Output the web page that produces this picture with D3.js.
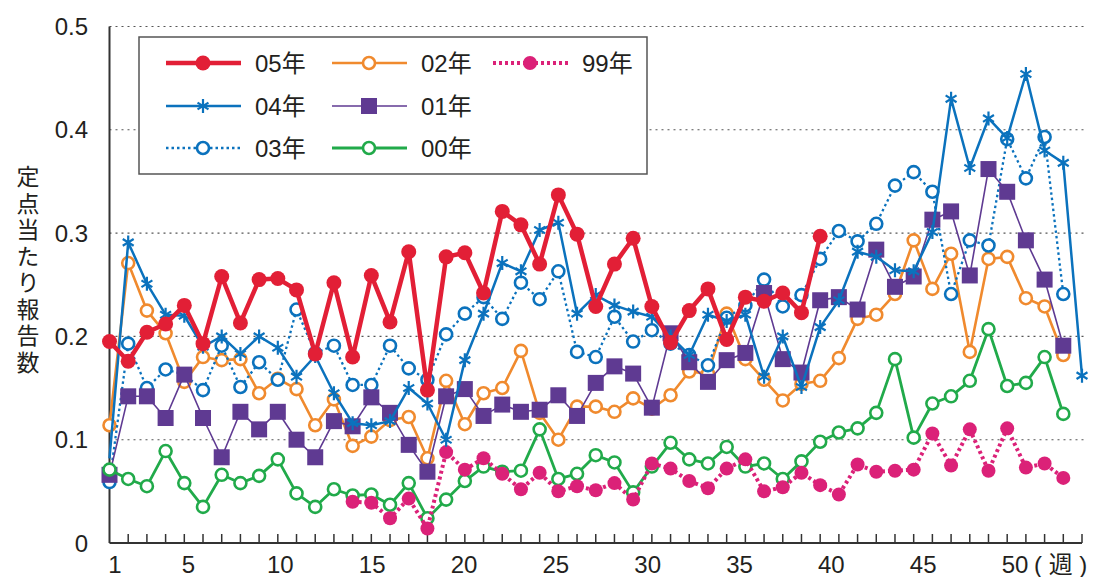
<!DOCTYPE html>
<html>
<head>
<meta charset="utf-8">
<script src="https://cdn.jsdelivr.net/npm/d3@7"></script>
<style>
  body { margin: 0; background: #fff; }
  text { font-family: "Liberation Sans", Arial, "Noto Sans CJK JP", sans-serif; fill: #231f20; }
</style>
</head>
<body>
<svg id="svg1" width="1097" height="577"></svg>
<script>
// 定点当たり報告数 by week, 1999-2005
var y05 = [0.195,0.176,0.204,0.212,0.230,0.193,0.258,0.213,0.255,0.256,
           0.245,0.183,0.252,0.180,0.259,0.214,0.282,0.148,0.277,0.281,
           0.242,0.321,0.308,0.270,0.337,0.299,0.229,0.270,0.295,0.229,
           0.194,0.225,0.246,0.197,0.238,0.234,0.242,0.223,0.297];
var y04 = [0.082,0.291,0.251,0.221,0.220,0.190,0.200,0.183,0.200,0.189,
           0.161,0.181,0.145,0.116,0.114,0.118,0.150,0.135,0.100,0.177,
           0.222,0.271,0.263,0.303,0.310,0.222,0.240,0.230,0.224,0.219,
           0.200,0.182,0.221,0.215,0.221,0.161,0.200,0.151,0.209,0.235,
           0.282,0.277,0.264,0.263,0.301,0.430,0.363,0.411,0.392,0.454,
           0.380,0.368,0.162];
var y03 = [0.059,0.193,0.150,0.168,0.163,0.148,0.191,0.151,0.175,0.158,
           0.226,0.184,0.191,0.153,0.153,0.191,0.169,0.158,0.202,0.222,
           0.238,0.217,0.252,0.236,0.263,0.185,0.180,0.219,0.195,0.206,
           0.193,0.182,0.172,0.218,0.230,0.255,0.229,0.240,0.275,0.302,
           0.292,0.309,0.346,0.359,0.340,0.241,0.293,0.288,0.391,0.353,
           0.393,0.241];
var y02 = [0.114,0.271,0.225,0.203,0.156,0.180,0.177,0.178,0.145,0.159,
           0.149,0.114,0.139,0.094,0.103,0.119,0.122,0.082,0.157,0.115,
           0.145,0.150,0.186,0.126,0.100,0.132,0.132,0.127,0.140,0.130,
           0.143,0.166,0.164,0.222,0.178,0.158,0.138,0.154,0.157,0.179,
           0.217,0.221,0.241,0.293,0.246,0.280,0.185,0.275,0.277,0.237,
           0.229,0.182];
var y01 = [0.066,0.142,0.142,0.121,0.163,0.121,0.083,0.127,0.110,0.127,
           0.100,0.083,0.118,0.113,0.141,0.126,0.095,0.069,0.142,0.149,
           0.123,0.134,0.127,0.129,0.143,0.123,0.155,0.171,0.164,0.131,
           0.203,0.175,0.156,0.177,0.184,0.242,0.178,0.165,0.235,0.238,
           0.226,0.284,0.248,0.258,0.313,0.321,0.259,0.362,0.340,0.293,
           0.255,0.191];
var y00 = [0.071,0.062,0.055,0.089,0.058,0.035,0.066,0.058,0.065,0.081,
           0.048,0.035,0.052,0.046,0.047,0.037,0.058,0.024,0.042,0.060,
           0.074,0.069,0.070,0.110,0.062,0.067,0.085,0.078,0.049,0.074,
           0.097,0.081,0.077,0.093,0.074,0.077,0.062,0.079,0.098,0.107,
           0.111,0.126,0.178,0.102,0.135,0.142,0.157,0.207,0.152,0.155,
           0.180,0.125];
var start99 = 14;   // 99年 begins at week 14
var y99 = [0.040,0.039,0.024,0.043,0.014,0.088,0.071,
           0.082,0.067,0.052,0.068,0.050,0.055,0.051,0.058,0.042,0.077,
           0.072,0.060,0.053,0.072,0.081,0.050,0.054,0.068,0.056,0.047,
           0.076,0.069,0.070,0.071,0.106,0.075,0.110,0.070,0.111,0.073,
           0.077,0.063];

var yTicks = [0, 0.1, 0.2, 0.3, 0.4, 0.5];
var xLabels = [1, 5, 10, 15, 20, 25, 30, 35, 40, 45, 50];

var series = [
  {name: '05年', data: y05, start: 1, color: '#e21f36', width: 4.5, dash: null, marker: 'dot', r: 7.5},
  {name: '04年', data: y04, start: 1, color: '#0b72bd', width: 2.5, dash: null, marker: 'star', r: 7},
  {name: '03年', data: y03, start: 1, color: '#0b72bd', width: 2.3, dash: '2.5,3', marker: 'ring', r: 6},
  {name: '02年', data: y02, start: 1, color: '#f08a2e', width: 2.6, dash: null, marker: 'ring', r: 6},
  {name: '01年', data: y01, start: 1, color: '#5f3a92', width: 1.6, dash: null, marker: 'square', r: 8},
  {name: '00年', data: y00, start: 1, color: '#21aa4a', width: 2.8, dash: null, marker: 'ring', r: 6},
  {name: '99年', data: y99, start: start99, color: '#db2178', width: 4, dash: '3,3', marker: 'dot', r: 7}
];
// drawing order (back to front)
var drawOrder = ['02年', '03年', '01年', '00年', '99年', '04年', '05年'];

var svg = d3.select('#svg1');

var x = d3.scaleLinear().domain([1, 53]).range([109.5, 1082]);
var y = d3.scaleLinear().domain([0, 0.5]).range([543, 26.5]);
// the printed week labels sit on their own slightly tighter spacing
var xLab = d3.scaleLinear().domain([1, 50]).range([115, 1015]);

// gridlines
svg.append('g').selectAll('line')
  .data(yTicks.filter(function(d) { return d > 0; }))
  .enter().append('line')
  .attr('x1', x(1)).attr('x2', 1086)
  .attr('y1', function(d) { return y(d); })
  .attr('y2', function(d) { return y(d); })
  .attr('stroke', '#555').attr('stroke-width', 1.1)
  .attr('stroke-dasharray', '2,4');

// x axis ticks (inside, pointing up)
var weeks = d3.range(2, 54);
svg.append('g').selectAll('line')
  .data(weeks).enter().append('line')
  .attr('x1', function(d) { return x(d); })
  .attr('x2', function(d) { return x(d); })
  .attr('y1', y(0)).attr('y2', y(0) - 9)
  .attr('stroke', '#333').attr('stroke-width', 1.5);

svg.append('line')
  .attr('x1', x(1)).attr('x2', x(53))
  .attr('y1', y(0)).attr('y2', y(0))
  .attr('stroke', '#333').attr('stroke-width', 2);
svg.append('line')
  .attr('x1', x(1)).attr('x2', x(1))
  .attr('y1', y(0)).attr('y2', y(0.5))
  .attr('stroke', '#333').attr('stroke-width', 2);

// y labels
svg.append('g').selectAll('text')
  .data(yTicks).enter().append('text')
  .attr('x', 88)
  .attr('y', function(d) { return y(d); })
  .attr('dy', '0.36em')
  .attr('text-anchor', 'end')
  .style('font-size', '24px')
  .text(function(d) { return d === 0 ? '0' : d.toFixed(1); });

// x labels
svg.append('g').selectAll('text')
  .data(xLabels).enter().append('text')
  .attr('x', function(d) { return xLab(d); })
  .attr('y', 573)
  .attr('text-anchor', 'middle')
  .style('font-size', '24px')
  .text(function(d) { return d; });

svg.append('text')
  .attr('x', xLab(50) + 19).attr('y', 573)
  .style('font-size', '24px')
  .text('( 週 )');

// y title, vertical upright text
svg.append('text')
  .attr('x', 28).attr('y', 165)
  .style('writing-mode', 'vertical-rl')
  .style('font-size', '23px')
  .style('letter-spacing', '3.5px')
  .style('font-family', '"Noto Sans CJK JP", sans-serif')
  .text('定点当たり報告数');

function starPath(r) {
  var a = r * 0.78;
  return 'M0,' + (-r) + 'L0,' + r +
         'M' + (-a) + ',' + (-a * 0.62) + 'L' + a + ',' + (a * 0.62) +
         'M' + (-a) + ',' + (a * 0.62) + 'L' + a + ',' + (-a * 0.62);
}

function drawMarkers(g, s, pts) {
  if (s.marker === 'dot') {
    g.selectAll('circle').data(pts).enter().append('circle')
      .attr('cx', function(d) { return d[0]; })
      .attr('cy', function(d) { return d[1]; })
      .attr('r', s.r).attr('fill', s.color);
  } else if (s.marker === 'ring') {
    g.selectAll('circle').data(pts).enter().append('circle')
      .attr('cx', function(d) { return d[0]; })
      .attr('cy', function(d) { return d[1]; })
      .attr('r', s.r).attr('fill', '#fff')
      .attr('stroke', s.color).attr('stroke-width', 2.6);
  } else if (s.marker === 'square') {
    g.selectAll('rect').data(pts).enter().append('rect')
      .attr('x', function(d) { return d[0] - s.r; })
      .attr('y', function(d) { return d[1] - s.r; })
      .attr('width', s.r * 2).attr('height', s.r * 2)
      .attr('fill', s.color);
  } else if (s.marker === 'star') {
    g.selectAll('path').data(pts).enter().append('path')
      .attr('transform', function(d) { return 'translate(' + d[0] + ',' + d[1] + ')'; })
      .attr('d', starPath(s.r))
      .attr('stroke', s.color).attr('stroke-width', 2.2).attr('fill', 'none');
  }
}

var line = d3.line();

drawOrder.forEach(function(name) {
  var s = series.find(function(d) { return d.name === name; });
  var pts = s.data.map(function(v, i) { return [x(s.start + i), y(v)]; });
  var g = svg.append('g');
  g.append('path')
    .attr('d', line(pts))
    .attr('fill', 'none')
    .attr('stroke', s.color)
    .attr('stroke-width', s.width)
    .attr('stroke-dasharray', s.dash)
    .attr('stroke-linejoin', 'round');
  drawMarkers(g, s, pts);
});

// legend
var legend = svg.append('g');
legend.append('rect')
  .attr('x', 139).attr('y', 37).attr('width', 508).attr('height', 137)
  .attr('fill', '#fff').attr('stroke', '#555').attr('stroke-width', 1.5);

var legendPos = {
  '05年': [166, 63], '04年': [166, 106], '03年': [166, 148],
  '02年': [332, 63], '01年': [332, 106], '00年': [332, 148],
  '99年': [493, 63]
};
series.forEach(function(s) {
  var p = legendPos[s.name];
  var g = legend.append('g');
  g.append('line')
    .attr('x1', p[0]).attr('x2', p[0] + 75)
    .attr('y1', p[1]).attr('y2', p[1])
    .attr('stroke', s.color)
    .attr('stroke-width', s.width)
    .attr('stroke-dasharray', s.dash);
  drawMarkers(g, s, [[p[0] + 37, p[1]]]);
  g.append('text')
    .attr('x', p[0] + 89).attr('y', p[1])
    .attr('dy', '0.36em')
    .style('font-size', '24px')
    .text(s.name);
});
</script>
</body>
</html>
